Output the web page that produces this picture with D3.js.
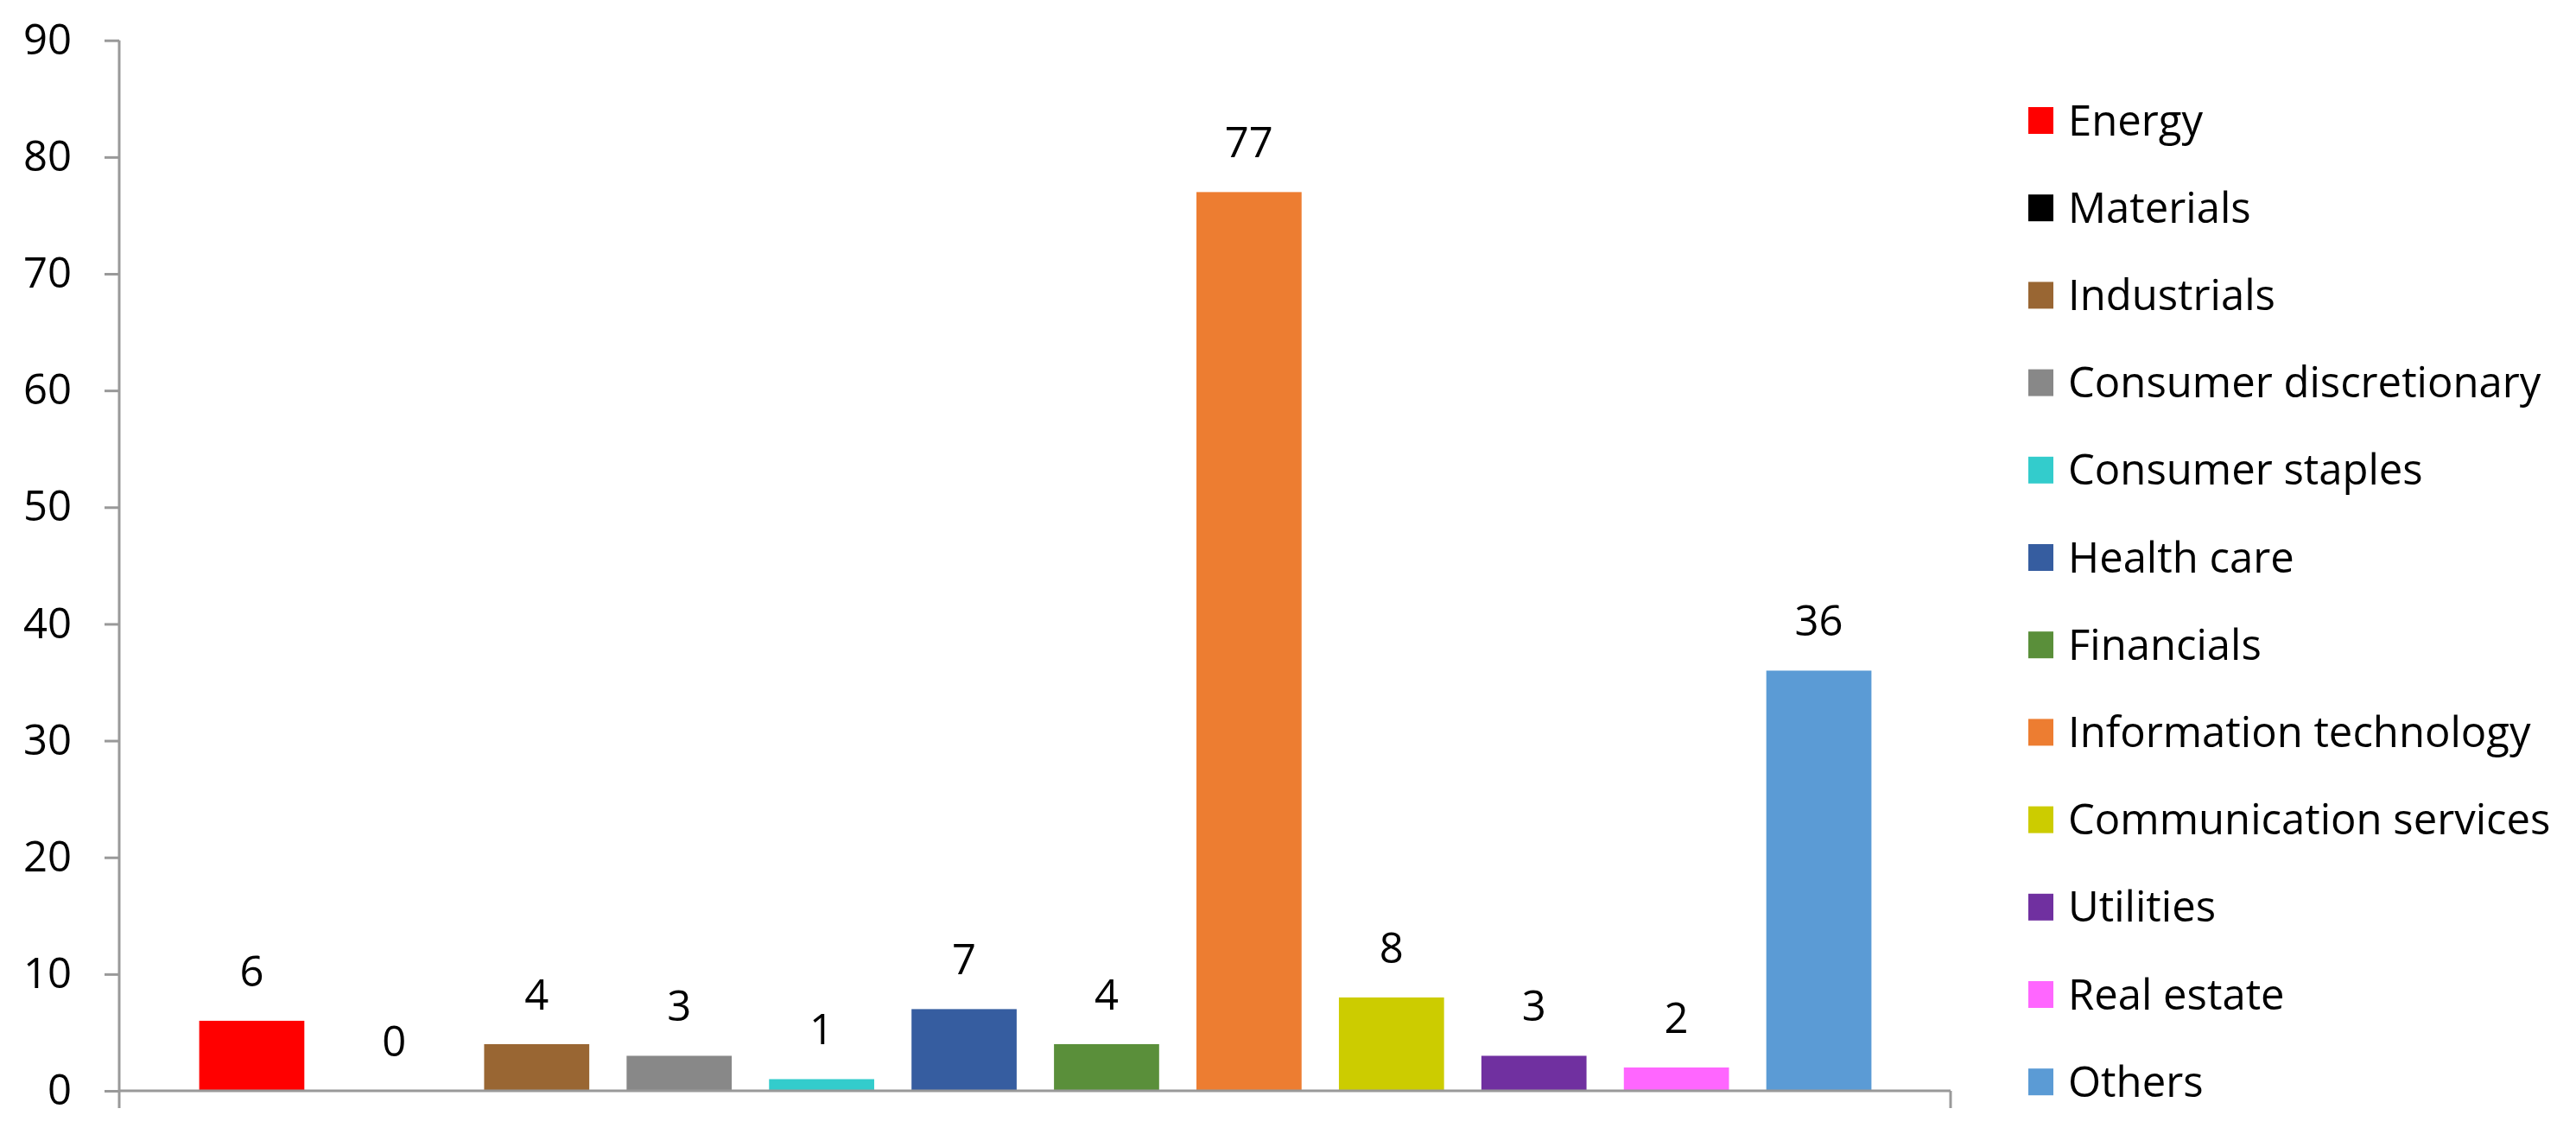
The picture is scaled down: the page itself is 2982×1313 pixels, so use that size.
<!DOCTYPE html>
<html><head><meta charset="utf-8">
<script src="https://cdn.jsdelivr.net/npm/d3@7"></script>
<style>body{margin:0;background:#fff}text{font-family:"Open Sans",sans-serif;fill:#000}</style>
</head><body>
<svg id="c" width="2982" height="1313"></svg>
<script>
const categories = ["Energy","Materials","Industrials","Consumer discretionary","Consumer staples","Health care","Financials","Information technology","Communication services","Utilities","Real estate","Others"];
const values = [6,0,4,3,1,7,4,77,8,3,2,36];
const colors = ["#FF0000","#000000","#996633","#888888","#33CCCC","#365DA0","#5A8F3A","#ED7D31","#CCCC00","#7030A0","#FF66FF","#5B9BD5"];
const yTicks = [0,10,20,30,40,50,60,70,80,90];

const svg = d3.select("#c");
const y = d3.scaleLinear().domain([0,90]).range([1263,46.7]);
const x = d3.scaleBand().domain(categories).range([209,2188]).paddingInner(0.262).paddingOuter(0.131);
const axisCol = "#999";

// y axis
const ya = svg.append("g").attr("transform","translate(138,0)")
  .call(d3.axisLeft(y).tickValues(yTicks).tickSize(17).tickPadding(38).tickSizeOuter(0));
ya.select(".domain").remove();
ya.selectAll("line").attr("stroke",axisCol).attr("stroke-width",3);
ya.selectAll("text").attr("font-size",49).attr("font-family","Open Sans");
svg.append("line").attr("x1",138).attr("x2",138).attr("y1",y(90)).attr("y2",1283).attr("stroke",axisCol).attr("stroke-width",3);

// bars
svg.selectAll("rect.bar").data(categories).join("rect").attr("class","bar")
  .attr("x",d=>x(d)).attr("width",x.bandwidth())
  .attr("y",(d,i)=>y(values[i])).attr("height",(d,i)=>y(0)-y(values[i]))
  .attr("fill",(d,i)=>colors[i]);
svg.selectAll("text.val").data(categories).join("text").attr("class","val")
  .attr("x",d=>x(d)+x.bandwidth()/2).attr("y",(d,i)=>y(values[i])-40)
  .attr("text-anchor","middle").attr("font-size",49).text((d,i)=>values[i]);

// x axis
svg.append("line").attr("x1",138).attr("x2",2258).attr("y1",y(0)).attr("y2",y(0)).attr("stroke",axisCol).attr("stroke-width",3);
svg.append("line").attr("x1",2258).attr("x2",2258).attr("y1",y(0)).attr("y2",1283).attr("stroke",axisCol).attr("stroke-width",3);

// legend
const lg = svg.selectAll("g.lg").data(categories).join("g").attr("class","lg")
  .attr("transform",(d,i)=>`translate(2348,${139.5+i*101.2})`);
lg.append("rect").attr("x",0).attr("y",-15.5).attr("width",29).attr("height",31).attr("fill",(d,i)=>colors[i]);
lg.append("text").attr("x",46).attr("y",17).attr("font-size",49).text(d=>d);
</script>
</body></html>
